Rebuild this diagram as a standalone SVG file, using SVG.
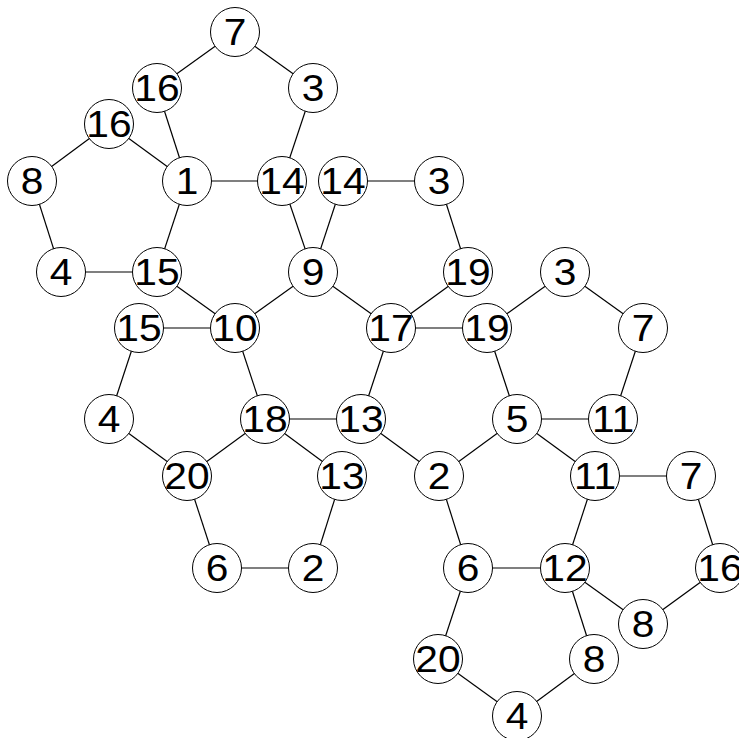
<svg xmlns="http://www.w3.org/2000/svg" width="739" height="738" viewBox="0 0 739 738">
<style>
.n text{font-family:"Liberation Sans",Arial,sans-serif;font-size:37px;text-anchor:middle;fill:#000}
#edges line{stroke:#000;stroke-width:1.2}
</style>
<defs>
<circle id="c" r="24.5" fill="#fff" stroke="#000" stroke-width="1"/>
</defs>
<rect width="739" height="738" fill="#fff"/>
<g id="edges">
<line x1="235" y1="32" x2="157" y2="88"/>
<line x1="235" y1="32" x2="313" y2="88"/>
<line x1="157" y1="88" x2="187" y2="181"/>
<line x1="313" y1="88" x2="282" y2="181"/>
<line x1="187" y1="181" x2="282" y2="181"/>
<line x1="109" y1="124" x2="32" y2="181"/>
<line x1="109" y1="124" x2="187" y2="181"/>
<line x1="32" y1="181" x2="61" y2="272"/>
<line x1="61" y1="272" x2="157" y2="272"/>
<line x1="187" y1="181" x2="157" y2="272"/>
<line x1="282" y1="181" x2="313" y2="272"/>
<line x1="343" y1="181" x2="313" y2="272"/>
<line x1="343" y1="181" x2="439" y2="181"/>
<line x1="439" y1="181" x2="468" y2="272"/>
<line x1="157" y1="272" x2="235" y2="328"/>
<line x1="313" y1="272" x2="235" y2="328"/>
<line x1="313" y1="272" x2="391" y2="328"/>
<line x1="468" y1="272" x2="391" y2="328"/>
<line x1="391" y1="328" x2="487" y2="328"/>
<line x1="487" y1="328" x2="565" y2="272"/>
<line x1="565" y1="272" x2="643" y2="328"/>
<line x1="643" y1="328" x2="613" y2="419"/>
<line x1="613" y1="419" x2="517" y2="419"/>
<line x1="517" y1="419" x2="487" y2="328"/>
<line x1="139" y1="328" x2="235" y2="328"/>
<line x1="139" y1="328" x2="109" y2="419"/>
<line x1="235" y1="328" x2="265" y2="419"/>
<line x1="391" y1="328" x2="361" y2="419"/>
<line x1="265" y1="419" x2="361" y2="419"/>
<line x1="109" y1="419" x2="187" y2="476"/>
<line x1="265" y1="419" x2="187" y2="476"/>
<line x1="265" y1="419" x2="342" y2="476"/>
<line x1="342" y1="476" x2="313" y2="568"/>
<line x1="187" y1="476" x2="217" y2="568"/>
<line x1="217" y1="568" x2="313" y2="568"/>
<line x1="361" y1="419" x2="439" y2="476"/>
<line x1="517" y1="419" x2="439" y2="476"/>
<line x1="517" y1="419" x2="595" y2="476"/>
<line x1="439" y1="476" x2="468" y2="568"/>
<line x1="595" y1="476" x2="691" y2="476"/>
<line x1="595" y1="476" x2="565" y2="568"/>
<line x1="468" y1="568" x2="565" y2="568"/>
<line x1="691" y1="476" x2="720" y2="568"/>
<line x1="720" y1="568" x2="643" y2="624"/>
<line x1="565" y1="568" x2="643" y2="624"/>
<line x1="565" y1="568" x2="594" y2="659"/>
<line x1="468" y1="568" x2="438" y2="659"/>
<line x1="438" y1="659" x2="517" y2="716"/>
<line x1="594" y1="659" x2="517" y2="716"/>
</g>
<g id="n7a" class="n" transform="translate(235,32)"><use href="#c"/><text y="13" transform="scale(1.1,1)">7</text></g>
<g id="n16a" class="n" transform="translate(157,88)"><use href="#c"/><text y="13" transform="scale(1.1,1)">16</text></g>
<g id="n3a" class="n" transform="translate(313,88)"><use href="#c"/><text y="13" transform="scale(1.1,1)">3</text></g>
<g id="n16b" class="n" transform="translate(109,124)"><use href="#c"/><text y="13" transform="scale(1.1,1)">16</text></g>
<g id="n8a" class="n" transform="translate(32,181)"><use href="#c"/><text y="13" transform="scale(1.1,1)">8</text></g>
<g id="n1" class="n" transform="translate(187,181)"><use href="#c"/><text y="13" transform="scale(1.1,1)">1</text></g>
<g id="n14a" class="n" transform="translate(282,181)"><use href="#c"/><text y="13" transform="scale(1.1,1)">14</text></g>
<g id="n14b" class="n" transform="translate(343,181)"><use href="#c"/><text y="13" transform="scale(1.1,1)">14</text></g>
<g id="n3b" class="n" transform="translate(439,181)"><use href="#c"/><text y="13" transform="scale(1.1,1)">3</text></g>
<g id="n4a" class="n" transform="translate(61,272)"><use href="#c"/><text y="13" transform="scale(1.1,1)">4</text></g>
<g id="n15a" class="n" transform="translate(157,272)"><use href="#c"/><text y="13" transform="scale(1.1,1)">15</text></g>
<g id="n9" class="n" transform="translate(313,272)"><use href="#c"/><text y="13" transform="scale(1.1,1)">9</text></g>
<g id="n19a" class="n" transform="translate(468,272)"><use href="#c"/><text y="13" transform="scale(1.1,1)">19</text></g>
<g id="n3c" class="n" transform="translate(565,272)"><use href="#c"/><text y="13" transform="scale(1.1,1)">3</text></g>
<g id="n15b" class="n" transform="translate(139,328)"><use href="#c"/><text y="13" transform="scale(1.1,1)">15</text></g>
<g id="n10" class="n" transform="translate(235,328)"><use href="#c"/><text y="13" transform="scale(1.1,1)">10</text></g>
<g id="n17" class="n" transform="translate(391,328)"><use href="#c"/><text y="13" transform="scale(1.1,1)">17</text></g>
<g id="n19b" class="n" transform="translate(487,328)"><use href="#c"/><text y="13" transform="scale(1.1,1)">19</text></g>
<g id="n7b" class="n" transform="translate(643,328)"><use href="#c"/><text y="13" transform="scale(1.1,1)">7</text></g>
<g id="n4b" class="n" transform="translate(109,419)"><use href="#c"/><text y="13" transform="scale(1.1,1)">4</text></g>
<g id="n18" class="n" transform="translate(265,419)"><use href="#c"/><text y="13" transform="scale(1.1,1)">18</text></g>
<g id="n13a" class="n" transform="translate(361,419)"><use href="#c"/><text y="13" transform="scale(1.1,1)">13</text></g>
<g id="n5" class="n" transform="translate(517,419)"><use href="#c"/><text y="13" transform="scale(1.1,1)">5</text></g>
<g id="n11a" class="n" transform="translate(613,419)"><use href="#c"/><text y="13" transform="scale(1.1,1)">11</text></g>
<g id="n20a" class="n" transform="translate(187,476)"><use href="#c"/><text y="13" transform="scale(1.1,1)">20</text></g>
<g id="n13b" class="n" transform="translate(342,476)"><use href="#c"/><text y="13" transform="scale(1.1,1)">13</text></g>
<g id="n2a" class="n" transform="translate(439,476)"><use href="#c"/><text y="13" transform="scale(1.1,1)">2</text></g>
<g id="n11b" class="n" transform="translate(595,476)"><use href="#c"/><text y="13" transform="scale(1.1,1)">11</text></g>
<g id="n7c" class="n" transform="translate(691,476)"><use href="#c"/><text y="13" transform="scale(1.1,1)">7</text></g>
<g id="n6a" class="n" transform="translate(217,568)"><use href="#c"/><text y="13" transform="scale(1.1,1)">6</text></g>
<g id="n2b" class="n" transform="translate(313,568)"><use href="#c"/><text y="13" transform="scale(1.1,1)">2</text></g>
<g id="n6b" class="n" transform="translate(468,568)"><use href="#c"/><text y="13" transform="scale(1.1,1)">6</text></g>
<g id="n12" class="n" transform="translate(565,568)"><use href="#c"/><text y="13" transform="scale(1.1,1)">12</text></g>
<g id="n16c" class="n" transform="translate(720,568)"><use href="#c"/><text y="13" transform="scale(1.1,1)">16</text></g>
<g id="n8b" class="n" transform="translate(643,624)"><use href="#c"/><text y="13" transform="scale(1.1,1)">8</text></g>
<g id="n20b" class="n" transform="translate(438,659)"><use href="#c"/><text y="13" transform="scale(1.1,1)">20</text></g>
<g id="n8c" class="n" transform="translate(594,659)"><use href="#c"/><text y="13" transform="scale(1.1,1)">8</text></g>
<g id="n4c" class="n" transform="translate(517,716)"><use href="#c"/><text y="13" transform="scale(1.1,1)">4</text></g>
</svg>
